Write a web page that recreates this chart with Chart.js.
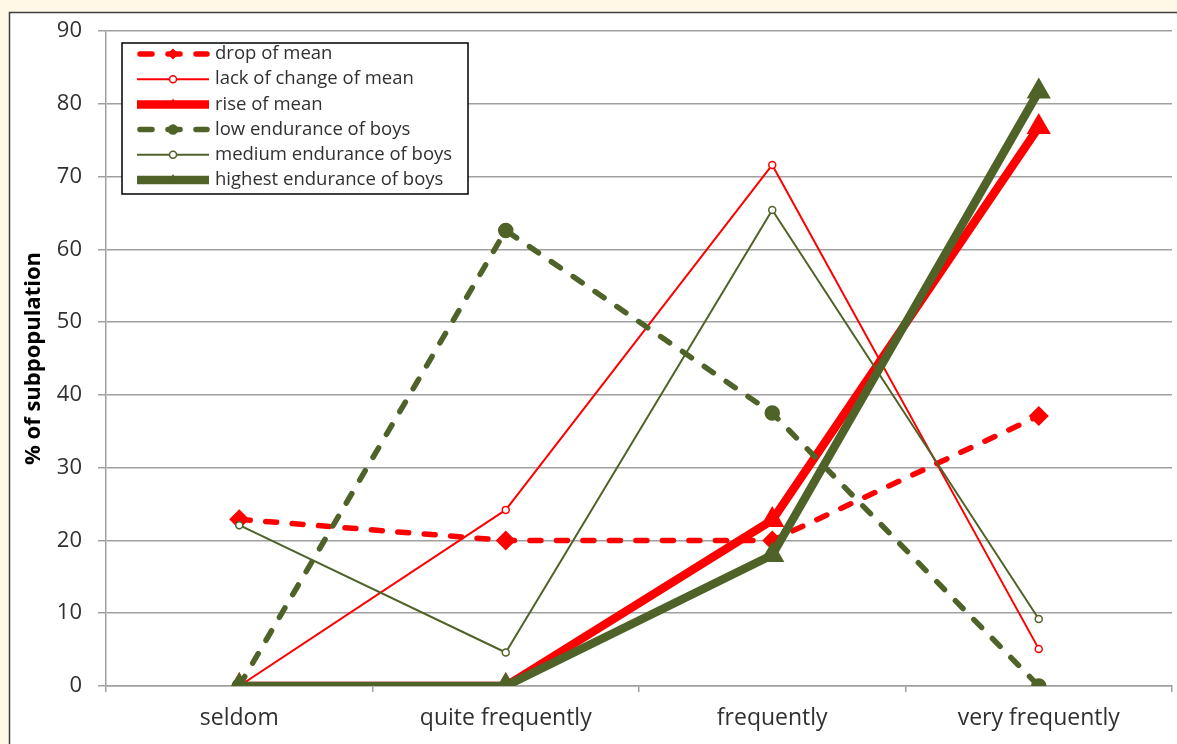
<!DOCTYPE html>
<html>
<head>
<meta charset="utf-8">
<script src="https://cdn.jsdelivr.net/npm/chart.js@4.4.1/dist/chart.umd.min.js"></script>
<style>
  html, body { margin: 0; padding: 0; background: #fef9e6; }
  canvas { display: block; }
</style>
</head>
<body>
<canvas id="chart" width="1177" height="744"></canvas>
<script>
// --- data ---
const categories = ['seldom', 'quite frequently', 'frequently', 'very frequently'];
const seriesNames = [
  'drop of mean',
  'lack of change of mean',
  'rise of mean',
  'low endurance of boys',
  'medium endurance of boys',
  'highest endurance of boys'
];
const dropOfMean       = [22.9, 20.0, 20.0, 37.1];
const lackOfChange     = [0, 24.2, 71.6, 5.1];
const riseOfMean       = [0, 0, 22.8, 76.8];
const lowEndurance     = [0, 62.6, 37.5, 0];
const mediumEndurance  = [22.1, 4.6, 65.4, 9.2];
const highestEndurance = [0, 0, 18.0, 81.7];
const yTicks = [0, 10, 20, 30, 40, 50, 60, 70, 80, 90];

const RED = '#ff0000';
const GREEN = '#4f6228';
const FONT = '"Open Sans", Lato, sans-serif';
const DASH = [11, 15.5];

function series(i, data, color, width, dash, style, radius, fill) {
  return {
    label: seriesNames[i],
    data: data,
    borderColor: color,
    borderWidth: width,
    borderDash: dash,
    borderCapStyle: dash.length ? 'round' : 'butt',
    borderJoinStyle: 'round',
    pointStyle: style,
    pointRadius: radius,
    pointBackgroundColor: fill,
    pointBorderColor: color,
    pointBorderWidth: 1.5,
    tension: 0,
    fill: false,
    order: 5 - i  // excel draws later series on top
  };
}

// white framed panel behind the chart
const framePlugin = {
  id: 'frame',
  beforeDraw(chart) {
    const ctx = chart.ctx;
    ctx.save();
    ctx.fillStyle = '#fef9e6';
    ctx.fillRect(0, 0, chart.width, chart.height);
    ctx.fillStyle = '#ffffff';
    ctx.fillRect(9, 12, chart.width, chart.height);
    ctx.strokeStyle = '#3f3f3f';
    ctx.lineWidth = 1.5;
    ctx.beginPath();
    ctx.moveTo(9.5, chart.height + 5);
    ctx.lineTo(9.5, 12.5);
    ctx.lineTo(chart.width + 5, 12.5);
    ctx.stroke();
    ctx.restore();
  }
};

// legend box with line samples, like the excel one
const legendPlugin = {
  id: 'excelLegend',
  afterDraw(chart) {
    const ctx = chart.ctx;
    const bx = 122, by = 43, bw = 346, bh = 151;
    ctx.save();
    ctx.fillStyle = '#ffffff';
    ctx.fillRect(bx, by, bw, bh);
    ctx.strokeStyle = '#000000';
    ctx.lineWidth = 1.5;
    ctx.strokeRect(bx, by, bw, bh);
    chart.data.datasets.forEach((ds, i) => {
      const y = 54 + i * 25.2;
      ctx.save();
      ctx.strokeStyle = ds.borderColor;
      ctx.lineWidth = ds.borderWidth;
      ctx.lineCap = ds.borderCapStyle;
      ctx.setLineDash(ds.borderDash.length ? [12, 16] : []);
      ctx.beginPath();
      ctx.moveTo(ds.borderDash.length ? 140 : 137, y);
      ctx.lineTo(ds.borderDash.length ? 207 : 209, y);
      ctx.stroke();
      ctx.setLineDash([]);
      ctx.fillStyle = ds.pointBackgroundColor;
      ctx.lineWidth = ds.pointBorderWidth;
      Chart.helpers.drawPoint(ctx, {
        pointStyle: ds.pointStyle,
        radius: Math.min(ds.pointRadius, 4.5),
        borderWidth: ds.pointBorderWidth,
        rotation: 0
      }, 173, y);
      ctx.restore();
      ctx.fillStyle = '#303030';
      ctx.font = '18.5px ' + FONT;
      ctx.textBaseline = 'middle';
      ctx.fillText(ds.label, 215, y);
    });
    ctx.restore();
  }
};

new Chart(document.getElementById('chart'), {
  type: 'line',
  data: {
    labels: categories,
    datasets: [
      series(0, dropOfMean, RED, 5.5, DASH, 'rectRot', 9, RED),
      series(1, lackOfChange, RED, 2, [], 'circle', 3.5, '#ffffff'),
      series(2, riseOfMean, RED, 8.5, [], 'triangle', 12.5, RED),
      series(3, lowEndurance, GREEN, 5.5, DASH, 'circle', 7, GREEN),
      series(4, mediumEndurance, GREEN, 2, [], 'circle', 3.5, '#ffffff'),
      series(5, highestEndurance, GREEN, 8.5, [], 'triangle', 12.5, GREEN)
    ]
  },
  options: {
    responsive: false,
    animation: false,
    layout: { autoPadding: false, padding: { top: 31, right: 5, bottom: 0, left: 21 } },
    plugins: {
      legend: { display: false },
      tooltip: { enabled: false }
    },
    scales: {
      x: {
        offset: true,
        afterFit: s => { s.height = 58; s.paddingLeft = 0; s.paddingRight = 0; },
        grid: {
          offset: true,
          drawOnChartArea: false,
          drawTicks: true,
          tickLength: 6,
          color: '#a0a0a0',
          lineWidth: 1.5
        },
        border: { color: '#a0a0a0', width: 1.5 },
        ticks: {
          color: '#303030',
          font: { family: FONT, size: 23 },
          padding: 13,
          maxRotation: 0
        }
      },
      y: {
        min: 0,
        max: 90,
        afterFit: s => { s.width = 85; s.paddingTop = 0; s.paddingBottom = 0; },
        afterBuildTicks: s => { s.ticks = yTicks.map(v => ({ value: v })); },
        grid: {
          color: '#a0a0a0',
          lineWidth: 1.5,
          tickLength: 8
        },
        border: { color: '#a0a0a0', width: 1.5 },
        ticks: {
          color: '#303030',
          font: { family: FONT, size: 22 },
          padding: 16
        },
        title: {
          display: true,
          text: '% of subpopulation',
          color: '#000000',
          font: { family: FONT, size: 22, weight: 'bold' },
          padding: { top: 0, bottom: 0 }
        }
      }
    }
  },
  plugins: [framePlugin, legendPlugin]
});
</script>
</body>
</html>
